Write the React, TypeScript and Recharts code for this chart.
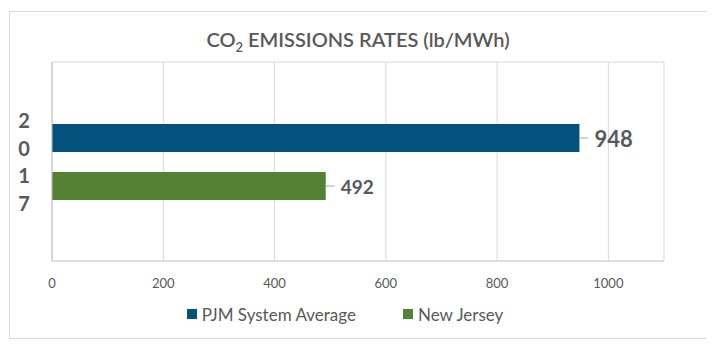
import { Bar, BarChart, CartesianGrid, LabelList, Legend, XAxis, YAxis } from 'recharts';

const categories = ['2017'];
const pjmValues = [948];
const njValues = [492];
const xTicks = [0, 200, 400, 600, 800, 1000, 1100];
const seriesNames = ['PJM System Average', 'New Jersey'];
const seriesColors = ['#02527D', '#548235'];

const data = categories.map((year, i) => ({ year, pjm: pjmValues[i], nj: njValues[i] }));

const TEXT = '#595959';

function StackedTick({ x, y, payload }: any) {
  const chars = String(payload.value).split('');
  const step = 27.5;
  const start = y - ((chars.length - 1) * step) / 2;
  return (
    <g>
      {chars.map((c, i) => (
        <text
          key={i}
          x={x - 20}
          y={start + i * step}
          textAnchor="middle"
          dominantBaseline="central"
          fontSize={20}
          fontWeight={700}
          fill={TEXT}
        >
          {c}
        </text>
      ))}
    </g>
  );
}

function ValueLabel({ x, y, width, height, value, size }: any) {
  const end = x + width;
  const cy = y + height / 2;
  return (
    <g>
      <line x1={end} y1={cy} x2={end + 9} y2={cy} stroke="#a6a6a6" strokeWidth={1} />
      <text x={end + 15} y={cy} dominantBaseline="central" fontSize={size} fontWeight={700} fill={TEXT}>
        {value}
      </text>
    </g>
  );
}

function LegendBox() {
  return (
    <div style={{ display: 'flex', justifyContent: 'center', height: 24, alignItems: 'center', paddingRight: 26 }}>
      {seriesNames.map((name, i) => (
        <div key={name} style={{ display: 'flex', alignItems: 'center', marginLeft: i ? 47 : 0 }}>
          <span style={{ width: 10, height: 10, background: seriesColors[i], display: 'inline-block', marginRight: 5 }} />
          <span style={{ fontSize: 17, color: TEXT }}>{name}</span>
        </div>
      ))}
    </div>
  );
}

export default function App() {
  return (
    <div style={{ paddingTop: 3, paddingLeft: 1, fontFamily: 'Lato, sans-serif' }}>
      <div style={{ width: 696, height: 326, border: '1px solid #d9d9d9', position: 'relative' }}>
        <div
          style={{
            position: 'absolute',
            top: 15,
            left: 0,
            width: 696,
            textAlign: 'center',
            fontSize: 20,
            color: TEXT,
            fontWeight: 600,
          }}
        >
          CO<sub style={{ fontSize: 13 }}>2</sub> EMISSIONS RATES (lb/MWh)
        </div>
        <BarChart
          width={696}
          height={326}
          data={data}
          layout="vertical"
          margin={{ top: 50, right: 42, left: 0, bottom: 12 }}
          barSize={28}
          barGap={20}
          style={{ fontFamily: 'Lato, sans-serif' }}
        >
          <CartesianGrid
            stroke="#d9d9d9"
            horizontalCoordinatesGenerator={({ offset }: any) => [offset.top]}
          />
          <XAxis
            type="number"
            domain={[0, 1100]}
            ticks={xTicks}
            interval={0}
            tickFormatter={(v: number) => (v === 1100 ? '' : String(v))}
            axisLine={{ stroke: '#bfbfbf' }}
            tickLine={false}
            tickMargin={12}
            height={41}
            tick={{ fontSize: 13, fill: TEXT }}
          />
          <YAxis
            type="category"
            dataKey="year"
            width={42}
            axisLine={{ stroke: '#bfbfbf' }}
            tickLine={false}
            tick={<StackedTick />}
          />
          <Legend verticalAlign="bottom" content={() => <LegendBox />} wrapperStyle={{ left: 0, width: 696 }} />
          <Bar dataKey="pjm" name={seriesNames[0]} fill={seriesColors[0]} isAnimationActive={false}>
            <LabelList dataKey="pjm" content={(p: any) => <ValueLabel {...p} size={22} />} />
          </Bar>
          <Bar dataKey="nj" name={seriesNames[1]} fill={seriesColors[1]} isAnimationActive={false}>
            <LabelList dataKey="nj" content={(p: any) => <ValueLabel {...p} size={19} />} />
          </Bar>
        </BarChart>
      </div>
    </div>
  );
}
